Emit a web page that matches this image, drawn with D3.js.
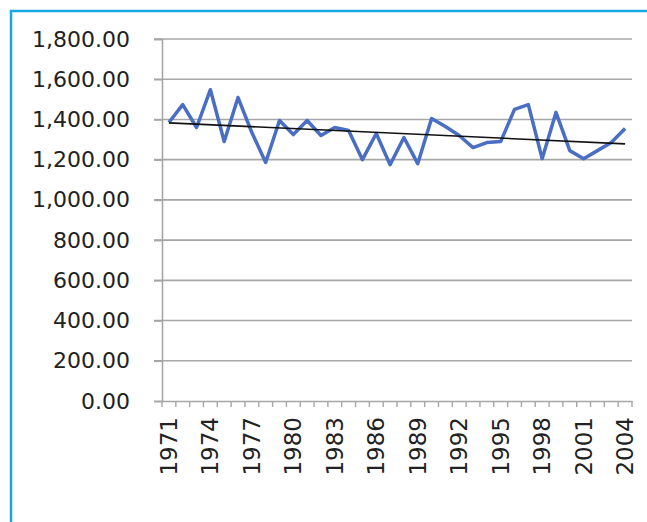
<!DOCTYPE html>
<html><head><meta charset="utf-8">
<script src="https://cdn.jsdelivr.net/npm/d3@7"></script>
<style>body{margin:0;background:#fff}svg{display:block}</style>
</head><body>
<script>
const years = d3.range(1971, 2005).map(String);
const values = [1385,1474,1360,1548,1290,1509,1335,1186,1395,1325,1395,1320,1360,1345,1200,1330,1175,1310,1180,1405,1365,1320,1260,1285,1290,1450,1474,1205,1435,1245,1205,1245,1285,1355];
const yTicks = [0,200,400,600,800,1000,1200,1400,1600,1800];
const xTickLabels = years.filter((d,i)=>i%3===0);

const W=647,H=522;
const svg=d3.select("body").append("svg").attr("width",W).attr("height",H);
svg.append("rect").attr("width",W).attr("height",H).attr("fill","#fff");
// frame
svg.append("path").attr("d","M11,522V11H647").attr("fill","none").attr("stroke","#19a8e6").attr("stroke-width",2.5);

const L=162,R=632,T=39,B=401;
const x=d3.scaleBand().domain(years).range([L,R]);
const y=d3.scaleLinear().domain([0,1800]).range([B,T]);
const fmt=d3.format(",.2f");

// gridlines
svg.append("g").selectAll("line").data(yTicks.filter(d=>d>0)).join("line")
  .attr("x1",L-8).attr("x2",R).attr("y1",d=>y(d)).attr("y2",d=>y(d))
  .attr("stroke","#a6a6a6").attr("stroke-width",1.6);

// y axis
const ya=svg.append("g").attr("transform",`translate(${L},0)`)
  .call(d3.axisLeft(y).tickValues(yTicks).tickFormat(fmt).tickSize(8).tickPadding(24));
ya.select(".domain").attr("stroke","#a6a6a6").attr("stroke-width",1.6);
ya.selectAll(".tick line").attr("stroke","#a6a6a6").attr("stroke-width",1.6);
ya.selectAll("text").attr("font-family","DejaVu Sans").attr("font-size",22).attr("fill","#222");

// x axis
const xa=svg.append("g").attr("transform",`translate(0,${B})`)
  .call(d3.axisBottom(x).tickValues(xTickLabels).tickSize(0).tickPadding(0));
xa.select(".domain").attr("stroke","#a6a6a6").attr("stroke-width",1.6);
xa.selectAll("text").attr("font-family","DejaVu Sans").attr("font-size",23).attr("fill","#222")
  .attr("text-anchor","end").attr("dy","0.35em")
  .attr("transform","translate(0,16) rotate(-90)");
// category boundary ticks
const bounds=years.map(d=>x(d)).concat([R]);
svg.append("g").selectAll("line").data(bounds).join("line")
  .attr("x1",d=>d).attr("x2",d=>d).attr("y1",B).attr("y2",B+6)
  .attr("stroke","#a6a6a6").attr("stroke-width",1.4);

// series line
const cx=d=>x(d)+x.bandwidth()/2;
svg.append("path").datum(values)
  .attr("fill","none").attr("stroke","#4a6ec4").attr("stroke-width",3.5).attr("stroke-linejoin","round")
  .attr("d",d3.line().x((d,i)=>cx(years[i])).y(d=>y(d)));

// linear trend
const n=values.length, xs=d3.range(n);
const mx=d3.mean(xs), my=d3.mean(values);
const slope=d3.sum(xs,i=>(i-mx)*(values[i]-my))/d3.sum(xs,i=>(i-mx)**2);
const icpt=my-slope*mx;
svg.append("line")
  .attr("x1",cx(years[0])).attr("y1",y(icpt))
  .attr("x2",cx(years[n-1])).attr("y2",y(icpt+slope*(n-1)))
  .attr("stroke","#111").attr("stroke-width",1.6);
</script>
</body></html>
